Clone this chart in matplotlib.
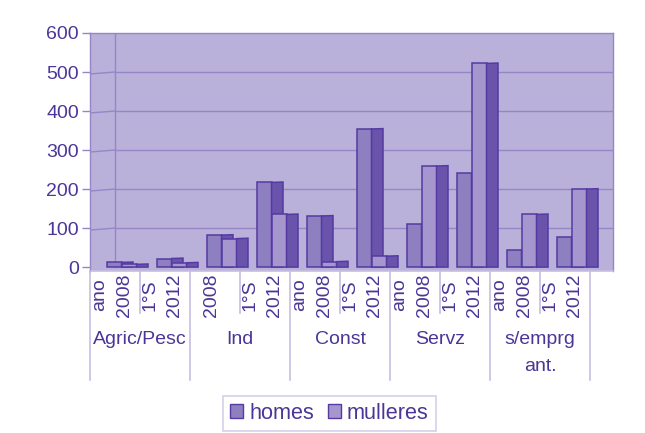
import matplotlib
matplotlib.use("Agg")
import matplotlib.pyplot as plt
import matplotlib.transforms as mtransforms
from matplotlib.patches import Polygon, Patch

# ---------------- data ----------------
groups = ["Agric/Pesc", "Ind", "Const", "Servz", "s/emprg\nant."]
sub_labels = ["ano\n2008", "1°S\n2012", "2008", "1°S\n2012", "ano\n2008",
              "1°S\n2012", "ano\n2008", "1°S\n2012", "ano\n2008", "1°S\n2012"]
series_names = ["homes", "mulleres"]
homes = [12, 22, 82, 217, 131, 354, 110, 240, 44, 78]
mulleres = [7, 11, 73, 135, 14, 28, 259, 522, 135, 200]
yticks = [0, 100, 200, 300, 400, 500, 600]

# ---------------- style ----------------
W, H = 645, 433
BG = "#b9b1da"
C_HOMES = "#8e7fc0"
C_MULL = "#a597cd"
C_SIDE = "#6953ab"
C_TOP = "#9d8fca"
EDGE = "#553aa3"
GRID = "#9586c8"
TEXT = "#4b3697"
SEP = "#c6bee2"
FONT = "Liberation Sans"
FS = 14

plt.rcParams["font.family"] = [FONT, "DejaVu Sans"]

fig = plt.figure(figsize=(W / 100, H / 100), dpi=100)
fig.patch.set_facecolor("white")

# axes: x from 90px to 613px, y from 33px (600) to 271px (-10)
ax = fig.add_axes([90 / W, (H - 271) / H, (613 - 90) / W, (271 - 33) / H])
ax.set_facecolor(BG)
ax.set_xlim(0, 523 / 50)
ax.set_ylim(-10, 600)

for s in ["top", "right", "left"]:
    ax.spines[s].set_color(GRID)
    ax.spines[s].set_linewidth(1.0)
ax.spines["bottom"].set_color(SEP)
ax.spines["bottom"].set_linewidth(1.2)

ax.set_xticks([])
ax.set_yticks(yticks)
ax.set_yticklabels([str(v) for v in yticks])
ax.tick_params(axis="y", length=6, width=1, color=GRID, pad=2,
               labelsize=FS, labelcolor=TEXT)

# back wall / side wall
wall_x = 0.5
dy_wall = 5
for v in yticks[1:-1]:
    ax.plot([wall_x, ax.get_xlim()[1]], [v, v], color=GRID, lw=1.0, zorder=1)
    ax.plot([0, wall_x], [v - dy_wall, v], color=GRID, lw=1.0, zorder=1)
ax.plot([wall_x, wall_x], [0, 600], color=GRID, lw=1.0, zorder=1)

# ---------------- 3D-like bars ----------------
fw = 0.30   # front width
sd = 0.23   # side depth
dtop = 1.0  # small rise of the top edge in depth
x_home = [i + 0.33 for i in range(len(homes))]
x_mull = [i + 0.63 for i in range(len(mulleres))]


def bar3d(x0, h, color):
    ax.bar(x0, h, width=fw, align="edge", color=color, edgecolor=EDGE,
           linewidth=1.1, zorder=3)
    side = Polygon([(x0 + fw, 0), (x0 + fw + sd, 0), (x0 + fw + sd, h + dtop),
                    (x0 + fw, h)], closed=True, facecolor=C_SIDE,
                   edgecolor=EDGE, linewidth=1.1, zorder=3)
    ax.add_patch(side)


for xh, xm, h, m in zip(x_home, x_mull, homes, mulleres):
    bar3d(xh, h, C_HOMES)
    bar3d(xm, m, C_MULL)

# ---------------- category labels ----------------
bt = mtransforms.blended_transform_factory(ax.transData, fig.transFigure)


def fy(py):
    return 1 - py / H


line_dx = 0.5  # spacing between the two rotated lines (data units = 25px)
for i, lab in enumerate(sub_labels):
    lines = lab.split("\n")
    if len(lines) == 2:
        xs = [i + 0.45 - line_dx / 2, i + 0.45 + line_dx / 2]
    else:
        xs = [i + 0.43]
    for xl, t in zip(xs, lines):
        ax.text(xl, fy(295), t, transform=bt, rotation=90, ha="center",
                va="center", fontsize=FS, color=TEXT, clip_on=False)

for g, name in enumerate(groups):
    for k, t in enumerate(name.split("\n")):
        ax.text(2 * g + 1, fy(340 + 26.5 * k), t, transform=bt, ha="center",
                va="center", fontsize=FS, color=TEXT, clip_on=False)

# separator lines in the label area
n_cat = len(sub_labels)
for b in range(0, n_cat + 1):
    y_end = 380 if b % 2 == 0 else 313
    ax.plot([b, b], [fy(271), fy(y_end)], transform=bt, color=SEP, lw=1.2,
            clip_on=False, zorder=1)

# ---------------- legend ----------------
handles = [Patch(facecolor=C_HOMES, edgecolor=EDGE, linewidth=1.0),
           Patch(facecolor=C_MULL, edgecolor=EDGE, linewidth=1.0)]
leg = fig.legend(handles, series_names, loc="center",
                 bbox_to_anchor=(329.5 / W, fy(413.5)), ncol=2,
                 frameon=True, fancybox=False, fontsize=15.6,
                 handlelength=0.6, handleheight=0.6, handletextpad=0.3,
                 columnspacing=0.6, borderpad=0.33, borderaxespad=0,
                 labelcolor=TEXT)
leg.get_frame().set_edgecolor("#cbc4e4")
leg.get_frame().set_linewidth(1.2)

fig.savefig("out.png", dpi=100, facecolor="white")
